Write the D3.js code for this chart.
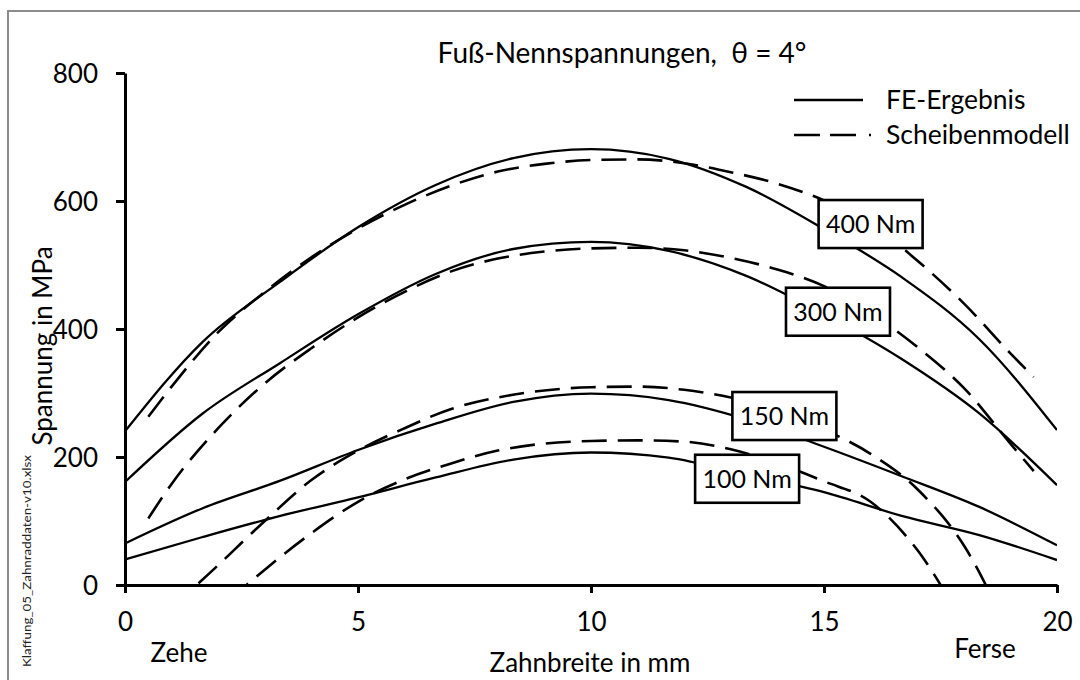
<!DOCTYPE html>
<html>
<head>
<meta charset="utf-8">
<script src="https://cdn.jsdelivr.net/npm/d3@7"></script>
<style>
  body { margin: 0; background: #fff; }
  svg { display: block; font-family: Lato, "Open Sans", sans-serif; }
</style>
</head>
<body>
<svg width="1080" height="680"></svg>
<script>
// FE-Ergebnis (solid), one value every 20/12 mm
var feX   = [0, 1.667, 3.333, 5, 6.667, 8.333, 10, 11.667, 13.333, 15, 16.667, 18.333, 20];
var fe400 = [240, 380, 474, 559, 625, 667, 681, 666, 622, 556, 481, 384, 242];
var fe300 = [161, 268, 347, 423, 486, 525, 536, 522, 483, 423, 353, 268, 156];
var fe150 = [65, 120, 163, 211, 252, 286, 299, 289, 259, 216, 170, 122, 62];
var fe100 = [40, 75, 108, 137, 168, 196, 207, 199, 172, 145, 108, 78, 39];

// Scheibenmodell (dashed), values below 0 are cut off by the axis
var smX   = [0.5, 1, 2, 3, 4, 5, 6, 7, 8, 9, 10, 11, 12, 13, 14, 15, 16, 17, 18, 19, 19.5];
var sm400 = [263, 310, 395, 458, 512, 557, 594, 624, 646, 658, 664, 665, 659, 645, 627, 601, 565, 507, 440, 362, 325];
var sm300 = [104, 158, 245, 315, 370, 418, 458, 490, 510, 521, 526, 527, 523, 511, 493, 467, 425, 372, 308, 221, 178];
var sm150 = [-78, -38, 31, 100, 164, 210, 245, 275, 293, 304, 309, 310, 305, 293, 274, 243, 205, 150, 62, -80, -160];
var sm100 = [-135, -100, -38, 24, 81, 130, 165, 190, 210, 221, 225, 226, 224, 212, 190, 162, 130, 55, -60, -180, -240];

var loads  = ["400 Nm", "300 Nm", "150 Nm", "100 Nm"];
// where the load boxes sit (mm, MPa)
var loadAtX = [16.0, 15.3, 14.15, 13.35];
var loadAtY = [564, 427, 264, 166];

var xTicks = [0, 5, 10, 15, 20];
var yTicks = [0, 200, 400, 600, 800];
var legendNames = ["FE-Ergebnis", "Scheibenmodell"];

var svg = d3.select("svg");

var x = d3.scaleLinear().domain([0, 20]).range([125, 1057]);
var y = d3.scaleLinear().domain([0, 800]).range([585, 73]);

// frame
svg.append("path")
    .attr("d", "M8,680V11H1080")
    .style("fill", "none")
    .style("stroke", "#8c8c8c")
    .style("stroke-width", 2);

svg.append("clipPath").attr("id", "plot")
  .append("rect")
    .attr("x", x(0)).attr("y", y(800))
    .attr("width", x(20) - x(0)).attr("height", y(0) - y(800));

var smooth = d3.line()
    .curve(d3.curveMonotoneX)
    .x(function(d) { return x(d[0]); })
    .y(function(d) { return y(d[1]); });

var g = svg.append("g").attr("clip-path", "url(#plot)");

[sm400, sm300, sm150, sm100].forEach(function(s) {
    g.append("path")
        .datum(d3.zip(smX, s))
        .attr("d", smooth)
        .style("fill", "none")
        .style("stroke", "#000")
        .style("stroke-width", 2.6)
        .style("stroke-dasharray", "25,11");
});

[fe400, fe300, fe150, fe100].forEach(function(s) {
    g.append("path")
        .datum(d3.zip(feX, s))
        .attr("d", smooth)
        .style("fill", "none")
        .style("stroke", "#000")
        .style("stroke-width", 2.3)
        .style("stroke-linejoin", "round");
});

// AXES

var yAxis = svg.append("g")
    .attr("transform", "translate(" + x(0) + ",0)")
    .call(d3.axisLeft(y).tickValues(yTicks).tickSize(9).tickSizeOuter(0).tickPadding(18));

var xAxis = svg.append("g")
    .attr("transform", "translate(0," + y(0) + ")")
    .call(d3.axisBottom(x).tickValues(xTicks).tickSize(8).tickSizeOuter(0));

[yAxis, xAxis].forEach(function(a) {
    a.select(".domain").style("stroke", "#000").style("stroke-width", 3);
    a.selectAll(".tick line").style("stroke", "#000").style("stroke-width", 3);
    a.selectAll("text")
        .style("font-family", "Lato, sans-serif")
        .style("font-size", "26px")
        .style("fill", "#000");
});
xAxis.selectAll("text").attr("y", 46).attr("dy", null);
yAxis.selectAll("text").attr("dy", "0.36em");

// LOAD BOXES

loads.forEach(function(t, i) {
    var cx = x(loadAtX[i]), cy = y(loadAtY[i]);
    svg.append("rect")
        .attr("x", cx - 52).attr("y", cy - 24)
        .attr("width", 104).attr("height", 48)
        .style("fill", "#fff")
        .style("stroke", "#000")
        .style("stroke-width", 2.6);
    svg.append("text")
        .text(t)
        .attr("x", cx).attr("y", cy)
        .attr("dy", "0.36em")
        .style("text-anchor", "middle")
        .style("font-size", "25px");
});

// TITLES

svg.append("text")
    .text("Fuß-Nennspannungen,  θ = 4°")
    .attr("x", 622).attr("y", 63)
    .style("text-anchor", "middle")
    .style("font-size", "28px")
    .style("white-space", "pre");

svg.append("text")
    .text("Zahnbreite in mm")
    .attr("x", 590).attr("y", 672)
    .style("text-anchor", "middle")
    .style("font-size", "26px");

svg.append("text")
    .text("Zehe")
    .attr("x", 179).attr("y", 662)
    .style("text-anchor", "middle")
    .style("font-size", "26px");

svg.append("text")
    .text("Ferse")
    .attr("x", 985).attr("y", 658)
    .style("text-anchor", "middle")
    .style("font-size", "26px");

svg.append("text")
    .text("Spannung in MPa")
    .attr("transform", "translate(52,346) rotate(-90)")
    .style("text-anchor", "middle")
    .style("font-size", "26px");

svg.append("text")
    .text("Klaffung_05_Zahnraddaten-v10.xlsx")
    .attr("transform", "translate(31,561) rotate(-90)")
    .attr("textLength", 212)
    .attr("lengthAdjust", "spacingAndGlyphs")
    .style("text-anchor", "middle")
    .style("font-size", "12px")
    .style("fill", "#222");

// LEGEND

legendNames.forEach(function(t, i) {
    var ly = 100 + i * 35;
    svg.append("line")
        .attr("x1", 794).attr("x2", i ? 872 : 863)
        .attr("y1", ly).attr("y2", ly)
        .style("stroke", "#000")
        .style("stroke-width", i ? 2.6 : 2.3)
        .style("stroke-dasharray", i ? "26,10,26,13,2,20" : null);
    svg.append("text")
        .text(t)
        .attr("x", 886).attr("y", ly + 9)
        .style("font-size", "26.5px");
});
</script>
</body>
</html>
